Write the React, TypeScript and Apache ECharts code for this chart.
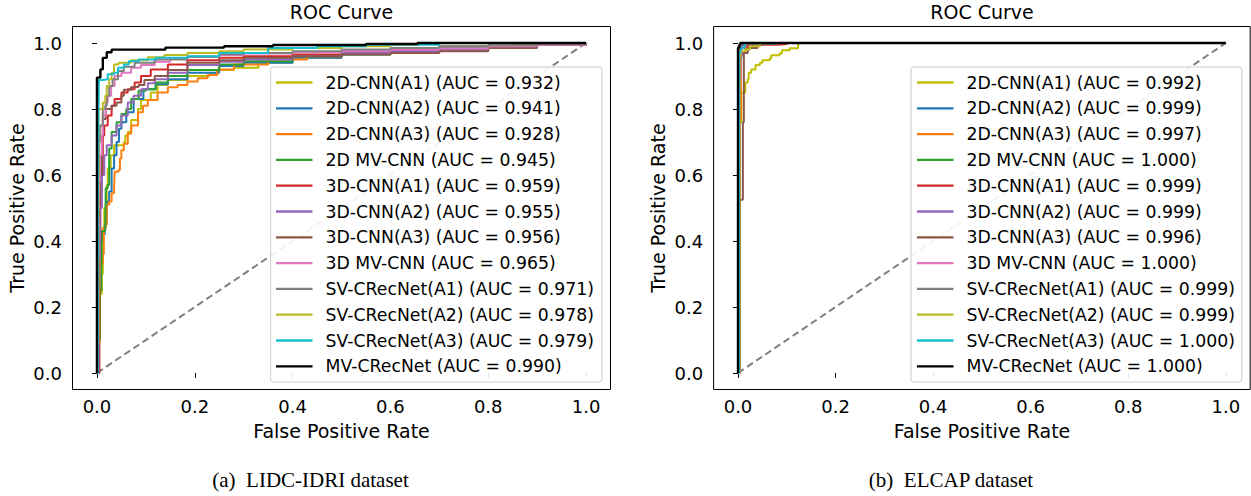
import React, { useEffect, useRef } from "react";
import * as echarts from "echarts";

// ---------- labels & ticks ----------
const MODELS = [
  "2D-CNN(A1)", "2D-CNN(A2)", "2D-CNN(A3)", "2D MV-CNN",
  "3D-CNN(A1)", "3D-CNN(A2)", "3D-CNN(A3)", "3D MV-CNN",
  "SV-CRecNet(A1)", "SV-CRecNet(A2)", "SV-CRecNet(A3)", "MV-CRecNet",
];
const COLORS = [
  "#bfbf00", "#1f77b4", "#ff7f0e", "#2ca02c",
  "#d62728", "#9467bd", "#8c564b", "#e377c2",
  "#7f7f7f", "#bcbd22", "#17becf", "#000000",
];
const AUC_LIDC = ["0.932", "0.941", "0.928", "0.945", "0.959", "0.955", "0.956", "0.965", "0.971", "0.978", "0.979", "0.990"];
const AUC_ELCAP = ["0.992", "0.999", "0.997", "1.000", "0.999", "0.999", "0.996", "1.000", "0.999", "0.999", "1.000", "1.000"];
const TICKS = [0, 0.2, 0.4, 0.6, 0.8, 1.0];
const TITLE = "ROC Curve";
const X_NAME = "False Positive Rate";
const Y_NAME = "True Positive Rate";
const CAPTION_A = "(a)\u2002LIDC-IDRI dataset";
const CAPTION_B = "(b)\u2002ELCAP dataset";

// ---------- LIDC-IDRI ROC curves [fpr, tpr] ----------
const L_2D_A1 = [[0,0],[0.003,0.09],[0.005,0.12],[0.006,0.24],[0.01,0.3],[0.012,0.44],[0.015,0.5],[0.02,0.57],[0.022,0.62],[0.028,0.66],[0.035,0.69],[0.055,0.7],[0.058,0.72],[0.063,0.73],[0.07,0.767],[0.084,0.8],[0.09,0.827],[0.11,0.85],[0.124,0.873],[0.145,0.888],[0.185,0.9],[0.23,0.905],[0.246,0.918],[0.28,0.925],[0.33,0.94],[0.4,0.955],[0.5,0.965],[0.6,0.98],[0.7,0.99],[0.85,0.995],[1,1]];
const L_2D_A2 = [[0,0],[0.002,0.33],[0.005,0.35],[0.006,0.4],[0.012,0.42],[0.016,0.45],[0.02,0.52],[0.025,0.55],[0.03,0.62],[0.035,0.66],[0.04,0.7],[0.045,0.74],[0.05,0.76],[0.06,0.79],[0.075,0.83],[0.095,0.86],[0.12,0.875],[0.145,0.89],[0.185,0.91],[0.25,0.93],[0.3,0.94],[0.4,0.955],[0.5,0.965],[0.6,0.975],[0.7,0.985],[0.8,0.99],[0.9,0.995],[1,1]];
const L_2D_A3 = [[0,0],[0.003,0.25],[0.004,0.33],[0.012,0.36],[0.014,0.44],[0.018,0.45],[0.02,0.51],[0.025,0.52],[0.03,0.545],[0.035,0.555],[0.036,0.61],[0.044,0.615],[0.047,0.65],[0.05,0.675],[0.055,0.695],[0.063,0.725],[0.07,0.75],[0.084,0.79],[0.094,0.81],[0.104,0.827],[0.124,0.85],[0.145,0.866],[0.165,0.873],[0.185,0.883],[0.206,0.893],[0.226,0.903],[0.246,0.92],[0.28,0.935],[0.35,0.95],[0.43,0.96],[0.5,0.97],[0.6,0.978],[0.7,0.985],[0.8,0.99],[0.9,0.995],[1,1]];
const L_2D_MV = [[0,0],[0.004,0.1],[0.006,0.25],[0.009,0.3],[0.01,0.43],[0.017,0.43],[0.018,0.56],[0.022,0.57],[0.025,0.68],[0.03,0.73],[0.04,0.76],[0.05,0.785],[0.06,0.8],[0.07,0.83],[0.085,0.855],[0.1,0.86],[0.12,0.88],[0.145,0.9],[0.185,0.918],[0.25,0.935],[0.3,0.945],[0.4,0.96],[0.5,0.97],[0.6,0.98],[0.7,0.985],[0.8,0.99],[0.9,0.995],[1,1]];
const L_3D_A1 = [[0,0],[0.005,0.4],[0.007,0.55],[0.01,0.6],[0.012,0.72],[0.015,0.75],[0.022,0.78],[0.03,0.81],[0.036,0.83],[0.05,0.85],[0.063,0.86],[0.077,0.88],[0.09,0.9],[0.11,0.92],[0.145,0.935],[0.185,0.948],[0.25,0.955],[0.3,0.96],[0.4,0.965],[0.5,0.97],[0.6,0.975],[0.7,0.98],[0.8,0.99],[0.9,0.995],[1,1]];
const L_3D_A2 = [[0,0],[0.003,0.35],[0.006,0.5],[0.01,0.6],[0.015,0.66],[0.02,0.69],[0.03,0.72],[0.04,0.75],[0.05,0.78],[0.063,0.82],[0.075,0.84],[0.09,0.86],[0.104,0.878],[0.118,0.89],[0.145,0.91],[0.185,0.933],[0.25,0.943],[0.3,0.95],[0.4,0.96],[0.5,0.97],[0.6,0.975],[0.7,0.98],[0.8,0.99],[0.9,0.995],[1,1]];
const L_3D_A3 = [[0,0],[0.002,0.47],[0.004,0.53],[0.006,0.6],[0.01,0.72],[0.012,0.77],[0.018,0.8],[0.03,0.81],[0.04,0.82],[0.05,0.84],[0.055,0.858],[0.07,0.867],[0.085,0.873],[0.097,0.888],[0.118,0.9],[0.145,0.918],[0.185,0.94],[0.25,0.948],[0.3,0.955],[0.4,0.96],[0.5,0.965],[0.6,0.97],[0.7,0.975],[0.8,0.985],[0.9,0.995],[1,1]];
const L_3D_MV = [[0,0],[0.002,0.5],[0.004,0.58],[0.006,0.66],[0.01,0.72],[0.012,0.78],[0.018,0.82],[0.022,0.84],[0.029,0.87],[0.036,0.9],[0.05,0.91],[0.07,0.925],[0.09,0.933],[0.118,0.943],[0.15,0.953],[0.185,0.958],[0.25,0.964],[0.3,0.968],[0.4,0.972],[0.5,0.976],[0.6,0.98],[0.7,0.984],[0.8,0.99],[0.9,0.995],[1,1]];
const L_SV_A1 = [[0,0],[0.002,0.6],[0.004,0.7],[0.006,0.75],[0.012,0.8],[0.017,0.81],[0.02,0.84],[0.025,0.87],[0.032,0.89],[0.043,0.915],[0.055,0.928],[0.077,0.94],[0.118,0.95],[0.185,0.958],[0.25,0.966],[0.3,0.97],[0.4,0.975],[0.5,0.98],[0.6,0.985],[0.7,0.99],[0.8,0.993],[0.9,0.997],[1,1]];
const L_SV_A2 = [[0,0],[0.001,0.09],[0.003,0.12],[0.003,0.8],[0.008,0.8],[0.012,0.82],[0.017,0.84],[0.02,0.87],[0.025,0.89],[0.03,0.91],[0.035,0.935],[0.044,0.94],[0.07,0.948],[0.104,0.957],[0.138,0.964],[0.185,0.97],[0.25,0.975],[0.3,0.98],[0.4,0.985],[0.5,0.99],[0.6,0.995],[0.66,1.0],[1,1]];
const L_SV_A3 = [[0,0],[0.002,0.56],[0.003,0.78],[0.004,0.888],[0.012,0.89],[0.022,0.905],[0.035,0.91],[0.043,0.925],[0.055,0.935],[0.065,0.945],[0.085,0.95],[0.12,0.955],[0.185,0.96],[0.25,0.97],[0.35,0.985],[0.45,0.99],[0.55,0.995],[0.7,1.0],[1,1]];
const L_MV = [[0,0],[0,0.895],[0.007,0.92],[0.012,0.955],[0.02,0.972],[0.03,0.98],[0.14,0.986],[0.26,0.99],[0.36,0.994],[0.55,0.997],[0.655,1.0],[1,1]];

// ---------- ELCAP ROC curves [fpr, tpr] ----------
const R_2D_A1 = [[0,0],[0.003,0.76],[0.007,0.85],[0.012,0.85],[0.015,0.88],[0.02,0.89],[0.022,0.91],[0.027,0.92],[0.036,0.933],[0.045,0.94],[0.05,0.948],[0.065,0.953],[0.068,0.963],[0.085,0.968],[0.09,0.978],[0.106,0.984],[0.123,0.989],[0.124,1.0],[1,1]];
const R_2D_A2 = [[0,0],[0.002,0.98],[0.006,0.99],[0.01,1.0],[1,1]];
const R_2D_A3 = [[0,0],[0.003,0.77],[0.006,0.97],[0.015,0.985],[0.03,0.995],[0.04,1.0],[1,1]];
const R_2D_MV = [[0,0],[0,0.99],[0.004,1.0],[1,1]];
const R_3D_A1 = [[0,0],[0.002,0.98],[0.006,0.99],[0.02,0.995],[0.08,0.997],[0.1,1.0],[1,1]];
const R_3D_A2 = [[0,0],[0.003,0.89],[0.005,0.96],[0.008,0.99],[0.015,1.0],[1,1]];
const R_3D_A3 = [[0,0],[0.004,0.525],[0.01,0.76],[0.012,0.97],[0.02,0.985],[0.04,0.995],[0.05,1.0],[1,1]];
const R_3D_MV = [[0,0],[0.001,0.99],[0.005,1.0],[1,1]];
const R_SV_A1 = [[0,0],[0.003,0.95],[0.006,0.985],[0.014,0.997],[0.082,1.0],[1,1]];
const R_SV_A2 = [[0,0],[0.003,0.96],[0.005,0.975],[0.015,0.98],[0.025,0.99],[0.045,0.995],[0.046,1.0],[1,1]];
const R_SV_A3 = [[0,0],[0.002,0.97],[0.005,0.985],[0.012,0.99],[0.015,1.0],[1,1]];
const R_MV = [[0,0],[0,0.985],[0.003,0.995],[0.005,1.0],[1,1]];

const DIAGONAL = [[0, 0], [1, 1]];

const LIDC_CURVES = [L_2D_A1, L_2D_A2, L_2D_A3, L_2D_MV, L_3D_A1, L_3D_A2, L_3D_A3, L_3D_MV, L_SV_A1, L_SV_A2, L_SV_A3, L_MV];
const ELCAP_CURVES = [R_2D_A1, R_2D_A2, R_2D_A3, R_2D_MV, R_3D_A1, R_3D_A2, R_3D_A3, R_3D_MV, R_SV_A1, R_SV_A2, R_SV_A3, R_MV];

const FONT = "DejaVu Sans";

function makeAxes(gridIndex: number) {
  const common = {
    gridIndex,
    type: "value" as const,
    min: -0.05,
    max: 1.05,
    splitLine: { show: false },
    axisLine: { show: false },
  };
  const tick = { show: true, inside: false, length: 5, customValues: TICKS, lineStyle: { color: "#000", width: 1 } };
  const label = (margin: number) => ({
    customValues: TICKS,
    formatter: (v: number) => v.toFixed(1),
    color: "#000",
    fontFamily: FONT,
    fontSize: 18,
    margin,
  });
  return {
    x: { ...common, axisTick: tick, axisLabel: label(8) },
    y: { ...common, axisTick: tick, axisLabel: label(10.5) },
  };
}

export default function App() {
  const ref = useRef<HTMLDivElement>(null);

  useEffect(() => {
    if (!ref.current) return;
    const chart = echarts.init(ref.current, undefined, { renderer: "svg" });

    const grids = [
      { left: 72.5, top: 26.5, width: 538, height: 363 },
      { left: 713.6, top: 26.5, width: 536.6, height: 363 },
    ].map((g) => ({ ...g, show: true, borderColor: "#000", borderWidth: 1, backgroundColor: "transparent" }));

    const a0 = makeAxes(0);
    const a1 = makeAxes(1);

    const namesL = MODELS.map((m, i) => `${m} (AUC = ${AUC_LIDC[i]})`);
    const namesR = MODELS.map((m, i) => `${m} (AUC = ${AUC_ELCAP[i]})`);

    const series: any[] = [];
    [0, 1].forEach((gi) => {
      series.push({
        name: gi === 0 ? "chance-a" : "chance-b",
        type: "line",
        xAxisIndex: gi,
        yAxisIndex: gi,
        data: DIAGONAL,
        symbol: "none",
        lineStyle: { color: "#808080", width: 2, type: [7, 4] },
        silent: true,
        z: 2,
      });
    });
    const addCurves = (curves: number[][][], names: string[], gi: number) => {
      curves.forEach((d, i) => {
        series.push({
          name: names[i],
          type: "line",
          xAxisIndex: gi,
          yAxisIndex: gi,
          data: d,
          step: "end",
          symbol: "none",
          lineStyle: { color: COLORS[i], width: i === 11 ? 2.4 : 2 },
          itemStyle: { color: COLORS[i] },
          z: 2,
        });
      });
    };
    addCurves(LIDC_CURVES, namesL, 0);
    addCurves(ELCAP_CURVES, namesR, 1);

    const legendCommon = {
      orient: "vertical" as const,
      padding: 0,
      itemWidth: 36.5,
      itemHeight: 2.3,
      itemGap: 8.4,
      icon: "rect",
      selectedMode: false,
      textStyle: { color: "#000", fontFamily: FONT, fontSize: 17.3, lineHeight: 17.4, padding: [0, 0, 0, 8] },
      z: 5,
    };

    const textStyle = (size: number) => ({ fill: "#000", fontFamily: FONT, fontSize: size });

    chart.setOption({
      animation: false,
      backgroundColor: "#fff",
      grid: grids,
      xAxis: [a0.x, a1.x],
      yAxis: [a0.y, a1.y],
      legend: [
        { ...legendCommon, left: 276, top: 73.8, data: namesL },
        { ...legendCommon, left: 917, top: 73.8, data: namesR },
      ],
      series,
      graphic: [
        { type: "rect", z: 3, shape: { x: 270.6, y: 67, width: 331.4, height: 315, r: 3 }, style: { fill: "rgba(255,255,255,0.9)", stroke: "#cccccc", lineWidth: 1 } },
        { type: "rect", z: 3, shape: { x: 911, y: 67, width: 330.8, height: 315, r: 3 }, style: { fill: "rgba(255,255,255,0.9)", stroke: "#cccccc", lineWidth: 1 } },
        { type: "text", z: 5, x: 341.5, y: 12, style: { ...textStyle(19), text: TITLE, textAlign: "center", textVerticalAlign: "middle" } },
        { type: "text", z: 5, x: 982, y: 12, style: { ...textStyle(19), text: TITLE, textAlign: "center", textVerticalAlign: "middle" } },
        { type: "text", z: 5, x: 341.5, y: 431, style: { ...textStyle(19), text: X_NAME, textAlign: "center", textVerticalAlign: "middle" } },
        { type: "text", z: 5, x: 982, y: 431, style: { ...textStyle(19), text: X_NAME, textAlign: "center", textVerticalAlign: "middle" } },
        { type: "text", z: 5, x: 17, y: 208, rotation: Math.PI / 2, style: { ...textStyle(19), text: Y_NAME, textAlign: "center", textVerticalAlign: "middle" } },
        { type: "text", z: 5, x: 658, y: 208, rotation: Math.PI / 2, style: { ...textStyle(19), text: Y_NAME, textAlign: "center", textVerticalAlign: "middle" } },
        { type: "text", z: 5, x: 310.5, y: 480, style: { fill: "#000", fontFamily: "Liberation Serif", fontSize: 21, text: CAPTION_A, textAlign: "center", textVerticalAlign: "middle" } },
        { type: "text", z: 5, x: 951, y: 480, style: { fill: "#000", fontFamily: "Liberation Serif", fontSize: 21, text: CAPTION_B, textAlign: "center", textVerticalAlign: "middle" } },
      ],
    });

    return () => chart.dispose();
  }, []);

  return (
    <div
      ref={ref}
      style={{ position: "absolute", left: 0, top: 0, width: 1251, height: 496, background: "#fff" }}
    />
  );
}
